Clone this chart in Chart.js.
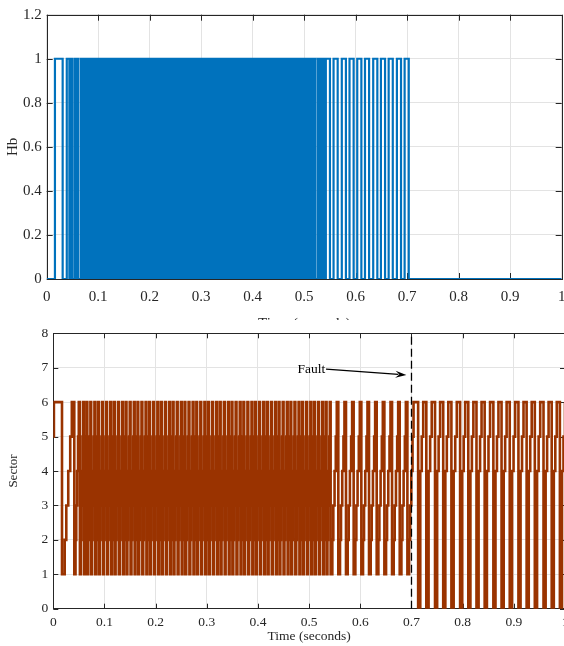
<!DOCTYPE html>
<html>
<head>
<meta charset="utf-8">
<script src="https://cdn.jsdelivr.net/npm/chart.js@4.4.0/dist/chart.umd.min.js"></script>
<style>
  html, body { margin: 0; padding: 0; background: #fff; overflow: hidden; width: 564px; height: 646px; }
  #hb { position: absolute; left: 0; top: 0; }
  #sector { position: absolute; left: 0; top: 320px; background: #fff; }
</style>
</head>
<body>
<canvas id="hb" width="576" height="335"></canvas>
<canvas id="sector" width="580" height="326"></canvas>
<script>
const timeTicks = [0, 0.1, 0.2, 0.3, 0.4, 0.5, 0.6, 0.7, 0.8, 0.9, 1];
const hbTicks = [0, 0.2, 0.4, 0.6, 0.8, 1, 1.2];
const sectorTicks = [0, 1, 2, 3, 4, 5, 6, 7, 8];

// Hb gate pulses that can be told apart: [rise, fall] in seconds
const hbPulses = [
  [0.016, 0.031], [0.039, 0.044], [0.0466, 0.0497], [0.0544, 0.0569], [0.0594, 0.0615],
  [0.526, 0.529], [0.531, 0.534], [0.536, 0.539],
  [0.542, 0.550], [0.557, 0.565], [0.573, 0.581], [0.588, 0.596], [0.603, 0.611],
  [0.618, 0.626], [0.634, 0.642], [0.649, 0.657], [0.664, 0.672], [0.680, 0.688],
  [0.695, 0.703]
];
// switching too fast to resolve, reads as a solid block
const hbDense = [0.064, 0.524];

// Sector: start, then cycles 1..6 (time each cycle drops back to 1)
const sectorStart = [[0, 5], [0.0012, 6]];
const sectorLevels = [1, 2, 3, 4, 5, 6];
const sectorDwell = [0.22, 0.13, 0.16, 0.16, 0.13, 0.20];
const sectorCycles = [
  0.017, 0.041, 0.052, 0.060,
  0.0665, 0.074, 0.082, 0.089, 0.097, 0.105, 0.113, 0.120, 0.128, 0.136,
  0.143, 0.151, 0.159, 0.166, 0.174, 0.182, 0.189, 0.197, 0.205, 0.212,
  0.220, 0.228, 0.235, 0.243, 0.251, 0.258, 0.266, 0.274, 0.281, 0.289,
  0.297, 0.304, 0.312, 0.320, 0.327, 0.335, 0.343, 0.350, 0.358, 0.366,
  0.373, 0.381, 0.389, 0.396, 0.404, 0.412, 0.419, 0.427, 0.435, 0.442,
  0.450, 0.458, 0.465, 0.473, 0.481, 0.488, 0.496, 0.504, 0.511, 0.519,
  0.527, 0.534,
  0.542, 0.557, 0.572, 0.587, 0.602, 0.617, 0.632, 0.647, 0.662, 0.677, 0.692
];
// after the fault: 0 -> 4 -> 5 -> 6
const faultLevels = [0, 4, 5, 6];
const faultDwell = [0.26, 0.18, 0.18, 0.38];
const faultCycles = [
  0.713, 0.729, 0.746, 0.762, 0.778, 0.795, 0.811, 0.827, 0.843,
  0.860, 0.876, 0.892, 0.909, 0.925, 0.941, 0.958, 0.974, 0.990
];
const sectorDense = [0.066, 0.524];
const faultTime = 0.7;
const faultText = 'Fault';
const faultTextAt = [0.477, 6.94];
const faultArrow = [[0.533, 6.96], [0.690, 6.79]];

const blue = '#0072bd';
const brown = '#9a3300';
const ink = '#262626';
const serif = '"Liberation Serif", "Times New Roman", serif';

function pulseSteps(pulses) {
  const pts = [{x: 0, y: 0}];
  pulses.forEach(([r, f]) => { pts.push({x: r, y: 1}, {x: f, y: 0}); });
  pts.push({x: 1, y: 0});
  return pts;
}

function cycleSteps(times, levels, dwell) {
  const pts = [];
  times.forEach((t, i) => {
    const span = i + 1 < times.length ? times[i + 1] - t : t - times[i - 1];
    let at = t;
    levels.forEach((v, k) => { pts.push({x: at, y: v}); at += span * dwell[k]; });
  });
  return pts;
}

const sectorData = sectorStart.map(([x, y]) => ({x, y}))
  .concat(cycleSteps(sectorCycles, sectorLevels, sectorDwell))
  .concat(cycleSteps(faultCycles, faultLevels, faultDwell));

const frame = {
  id: 'frame',
  beforeDatasetsDraw(chart, args, opts) {
    const {ctx, chartArea: a, scales: {x, y}} = chart;
    ctx.save();
    ctx.strokeStyle = ink;
    ctx.lineWidth = 1;
    ctx.strokeRect(Math.round(a.left) + 0.5, Math.round(a.top) + 0.5, Math.round(a.width), Math.round(a.height));
    ctx.beginPath();
    x.ticks.forEach(t => {
      const px = Math.round(x.getPixelForValue(t.value)) + 0.5;
      ctx.moveTo(px, a.top); ctx.lineTo(px, a.top + opts.len);
      ctx.moveTo(px, a.bottom); ctx.lineTo(px, a.bottom - opts.len);
    });
    y.ticks.forEach(t => {
      const py = Math.round(y.getPixelForValue(t.value)) + 0.5;
      ctx.moveTo(a.left, py); ctx.lineTo(a.left + opts.len, py);
      ctx.moveTo(a.right, py); ctx.lineTo(a.right - opts.len, py);
    });
    ctx.stroke();
    ctx.restore();
  }
};

const note = {
  id: 'note',
  afterDatasetsDraw(chart) {
    const {ctx, scales: {x, y}} = chart;
    ctx.save();
    ctx.fillStyle = '#000';
    ctx.strokeStyle = '#000';
    ctx.font = '13.5px ' + serif;
    ctx.textBaseline = 'middle';
    ctx.fillText(faultText, x.getPixelForValue(faultTextAt[0]), y.getPixelForValue(faultTextAt[1]));
    const x0 = x.getPixelForValue(faultArrow[0][0]), y0 = y.getPixelForValue(faultArrow[0][1]);
    const x1 = x.getPixelForValue(faultArrow[1][0]), y1 = y.getPixelForValue(faultArrow[1][1]);
    const ang = Math.atan2(y1 - y0, x1 - x0);
    ctx.lineWidth = 1.2;
    ctx.beginPath(); ctx.moveTo(x0, y0); ctx.lineTo(x1 - 8 * Math.cos(ang), y1 - 8 * Math.sin(ang)); ctx.stroke();
    ctx.beginPath();
    ctx.moveTo(x1, y1);
    ctx.lineTo(x1 - 11 * Math.cos(ang) + 3.5 * Math.sin(ang), y1 - 11 * Math.sin(ang) - 3.5 * Math.cos(ang));
    ctx.lineTo(x1 - 7 * Math.cos(ang), y1 - 7 * Math.sin(ang));
    ctx.lineTo(x1 - 11 * Math.cos(ang) - 3.5 * Math.sin(ang), y1 - 11 * Math.sin(ang) + 3.5 * Math.cos(ang));
    ctx.closePath();
    ctx.fill();
    ctx.restore();
  }
};

function scaleX(size, pad, titleSize, titlePad, height) {
  return {
    type: 'linear', min: 0, max: 1,
    afterBuildTicks: s => { s.ticks = timeTicks.map(v => ({value: v})); },
    afterFit: s => { s.height = height; },
    ticks: {autoSkip: false, maxRotation: 0, padding: pad, color: ink,
            font: {family: serif, size: size}, callback: v => String(v)},
    grid: {color: '#e3e3e3', drawTicks: false},
    border: {display: false},
    title: {display: true, text: 'Time (seconds)', color: ink,
            font: {family: serif, size: titleSize}, padding: {top: 0, bottom: titlePad}}
  };
}

function scaleY(ticksArr, min, max, size, label, titleSize, titlePad, width) {
  return {
    type: 'linear', min: min, max: max,
    afterBuildTicks: s => { s.ticks = ticksArr.map(v => ({value: v})); },
    afterFit: s => { s.width = width; },
    ticks: {autoSkip: false, padding: 5, color: ink,
            font: {family: serif, size: size}, callback: v => String(v)},
    grid: {color: '#e3e3e3', drawTicks: false},
    border: {display: false},
    title: {display: true, text: label, color: ink,
            font: {family: serif, size: titleSize}, padding: {top: titlePad, bottom: 0}}
  };
}

const common = {
  responsive: false,
  animation: false,
  events: [],
  elements: {point: {radius: 0}, line: {tension: 0}},
  plugins: {legend: {display: false}, tooltip: {enabled: false}}
};

new Chart(document.getElementById('hb'), {
  type: 'line',
  data: {
    datasets: [
      {data: pulseSteps(hbPulses), stepped: true, borderColor: blue, borderWidth: 2.2, fill: false, order: 0},
      {data: [{x: hbDense[0], y: 1}, {x: hbDense[1], y: 1}], borderColor: blue, borderWidth: 2.2,
       backgroundColor: blue, fill: 'origin', order: 1}
    ]
  },
  options: Object.assign({}, common, {
    layout: {padding: {left: 0, top: 14.7, right: 14.3, bottom: 0}},
    scales: {
      x: scaleX(15, 9.5, 15, 2, 56),
      y: scaleY(hbTicks, 0, 1.2, 15, 'Hb', 15, 4, 46.7)
    },
    plugins: Object.assign({}, common.plugins, {frame: {len: 6}})
  }),
  plugins: [frame]
});

new Chart(document.getElementById('sector'), {
  type: 'line',
  data: {
    datasets: [
      {data: [{x: faultTime, y: 0}, {x: faultTime, y: 8}], borderColor: '#000', borderWidth: 1.3,
       borderDash: [8, 4], fill: false, order: 0},
      {data: sectorData, stepped: true, borderColor: brown, borderWidth: 2.6, fill: false, order: 1},
      {data: [{x: sectorDense[0], y: 4}, {x: sectorDense[1], y: 4}], borderWidth: 0,
       backgroundColor: brown, fill: {value: 3}, order: 2},
      {data: [{x: sectorDense[0], y: 5}, {x: sectorDense[1], y: 5}], borderWidth: 0,
       backgroundColor: 'rgba(154, 51, 0, 0.45)', fill: {value: 2}, order: 3}
    ]
  },
  options: Object.assign({}, common, {
    layout: {padding: {left: 0, top: 13.3, right: 15, bottom: 0}},
    scales: {
      x: scaleX(13.5, 5.7, 13.5, 1, 37.3),
      y: scaleY(sectorTicks, 0, 8, 13.5, 'Sector', 13, 5.7, 53.3)
    },
    plugins: Object.assign({}, common.plugins, {frame: {len: 5}})
  }),
  plugins: [frame, note]
});
</script>
</body>
</html>
